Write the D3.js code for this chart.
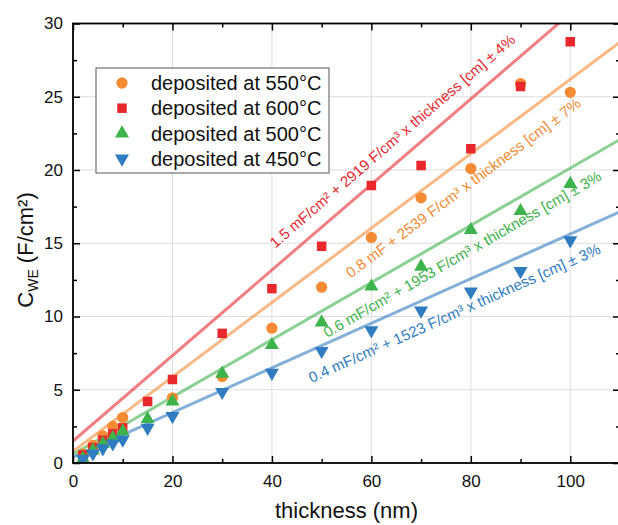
<!DOCTYPE html>
<html>
<head>
<meta charset="utf-8">
<script src="https://cdn.jsdelivr.net/npm/d3@7"></script>
<style>
  html, body { margin: 0; padding: 0; background: #fff; }
  svg { display: block; font-family: Arial, "Liberation Sans", sans-serif; }
</style>
</head>
<body>
<svg id="chart" width="618" height="525"></svg>
<script>
// Film thickness (nm) at which each electrode was measured
const thickness = [2, 4, 6, 8, 10, 15, 20, 30, 40, 50, 60, 70, 80, 90, 100];
// The 550 °C series has no 15 nm sample
const thickness550 = [2, 4, 6, 8, 10, 20, 30, 40, 50, 60, 70, 80, 90, 100];

// Areal capacitance C_WE (mF/cm²) for each deposition temperature
const cwe550 = [0.6, 1.2, 1.85, 2.5, 3.1, 4.45, 5.9, 9.2, 12.0, 15.4, 18.1, 20.1, 25.9, 25.3];
const cwe600 = [0.55, 1.05, 1.55, 2.0, 2.4, 4.2, 5.7, 8.85, 11.9, 14.8, 18.95, 20.3, 21.45, 25.7, 28.75];
const cwe500 = [0.3, 0.85, 1.3, 1.7, 2.15, 3.0, 4.2, 6.1, 8.05, 9.6, 12.05, 13.4, 15.9, 17.2, 19.05];
const cwe450 = [0.27, 0.65, 1.0, 1.33, 1.6, 2.4, 3.2, 4.85, 6.15, 7.65, 9.05, 10.4, 11.7, 13.1, 15.2];

// Linear fits: intercept (mF/cm²) and volumetric slope (F/cm³), in legend order
const seriesNames = ["deposited at 550°C", "deposited at 600°C", "deposited at 500°C", "deposited at 450°C"];
const fitIntercept = [0.8, 1.5, 0.6, 0.4];
const fitSlope = [2539, 2919, 1953, 1523];
const fitText = [
  "0.8 mF + 2539 F/cm³ x thickness [cm] ± 7%",
  "1.5 mF/cm² + 2919 F/cm³ x thickness [cm] ± 4%",
  "0.6 mF/cm² + 1953 F/cm³ x thickness [cm] ± 3%",
  "0.4 mF/cm² + 1523 F/cm³ x thickness [cm] ± 3%"
];

// Axis ticks
const xMajor = [0, 20, 40, 60, 80, 100];
const xMinor = [10, 30, 50, 70, 90, 110];
const yMajor = [0, 5, 10, 15, 20, 25, 30];
const yMinor = [2.5, 7.5, 12.5, 17.5, 22.5, 27.5];

// F/cm³ × nm  ->  mF/cm²
const NM_TO_CM = 1e-7, F_TO_MF = 1e3;
const fitLine = i => t => fitIntercept[i] + fitSlope[i] * t * NM_TO_CM * F_TO_MF;

// ---- styling & layout ----
const colors = ["#F58B33", "#E8282D", "#3DB34C", "#2F7CC1"];
const shapes = ["circle", "square", "triUp", "triDown"];
// where each equation starts along its line (nm) and its distance from the line (px, + above)
const labelLayout = [
  { start: 52.5, offset: -28 },
  { start: 42.5, offset: 14 },
  { start: 48.5, offset: -26 },
  { start: 45.5, offset: -30 }
];

const L = 73, R = 620, T = 23.5, B = 463;
const x = d3.scaleLinear().domain([0, 110]).range([L, R]);
const y = d3.scaleLinear().domain([0, 30]).range([B, T]);

const svg = d3.select("#chart");
svg.append("defs").append("clipPath").attr("id", "plotClip")
  .append("rect").attr("x", L).attr("y", T).attr("width", R - L).attr("height", B - T);

// gridlines
const grid = svg.append("g").attr("stroke", "#DEDEDE").attr("stroke-width", 1);
grid.selectAll(".gx").data(xMajor.filter(v => v > 0)).join("line")
  .attr("x1", d => x(d)).attr("x2", d => x(d)).attr("y1", T).attr("y2", B);
grid.selectAll(".gy").data(yMajor.filter(v => v > 0 && v < 30)).join("line")
  .attr("y1", d => y(d)).attr("y2", d => y(d)).attr("x1", L).attr("x2", R);

const plot = svg.append("g").attr("clip-path", "url(#plotClip)");

// fit lines
const lineGen = d3.line().x(d => x(d[0])).y(d => y(d[1]));
fitIntercept.forEach((_, i) => {
  const f = fitLine(i);
  plot.append("path")
    .datum([[0, f(0)], [110, f(110)]])
    .attr("d", lineGen)
    .attr("fill", "none")
    .attr("stroke", colors[i])
    .attr("stroke-opacity", 0.6)
    .attr("stroke-width", 3);
});

// fit equations written along each line
fitIntercept.forEach((_, i) => {
  const f = fitLine(i);
  const ang = Math.atan2(y(f(110)) - y(f(0)), x(110) - x(0));
  const lay = labelLayout[i];
  const px = x(lay.start) + lay.offset * Math.sin(ang);
  const py = y(f(lay.start)) - lay.offset * Math.cos(ang);
  svg.append("text")
    .attr("transform", `translate(${px},${py}) rotate(${ang * 180 / Math.PI})`)
    .attr("fill", colors[i])
    .attr("font-size", 15)
    .text(fitText[i]);
});

// symbols
function symbolPath(shape, size) {
  if (shape === "circle") return d3.symbol(d3.symbolCircle, size)();
  if (shape === "square") return d3.symbol(d3.symbolSquare, size)();
  return d3.symbol(d3.symbolTriangle, size)();
}
const symbolSize = { circle: 100, square: 90, triUp: 85, triDown: 85 };
function drawSymbol(g, shape, cx, cy, color) {
  g.append("path")
    .attr("d", symbolPath(shape, symbolSize[shape]))
    .attr("transform", `translate(${cx},${cy})` + (shape === "triDown" ? " rotate(180)" : ""))
    .attr("fill", color);
}

const seriesX = [thickness550, thickness, thickness, thickness];
const seriesY = [cwe550, cwe600, cwe500, cwe450];
const pts = plot.append("g");
seriesY.forEach((vals, i) => {
  vals.forEach((v, k) => drawSymbol(pts, shapes[i], x(seriesX[i][k]), y(v), colors[i]));
});

// axes with inward ticks
const axisG = svg.append("g").attr("font-family", "Arial, 'Liberation Sans', sans-serif");
function styleAxis(g) {
  g.select(".domain").remove();
  g.selectAll("line").attr("stroke", "#000").attr("stroke-width", 1.5);
  g.selectAll("text").attr("fill", "#111").attr("font-size", 17);
}
axisG.append("g").attr("transform", `translate(0,${B})`)
  .call(d3.axisBottom(x).tickValues(xMajor).tickSize(-7).tickPadding(12).tickFormat(d3.format("d")))
  .call(styleAxis);
axisG.append("g").attr("transform", `translate(0,${B})`)
  .call(d3.axisBottom(x).tickValues(xMinor).tickSize(-4).tickFormat(""))
  .call(styleAxis);
axisG.append("g").attr("transform", `translate(0,${T})`)
  .call(d3.axisTop(x).tickValues(xMajor).tickSize(-7).tickFormat(""))
  .call(styleAxis);
axisG.append("g").attr("transform", `translate(0,${T})`)
  .call(d3.axisTop(x).tickValues(xMinor).tickSize(-4).tickFormat(""))
  .call(styleAxis);
axisG.append("g").attr("transform", `translate(${L},0)`)
  .call(d3.axisLeft(y).tickValues(yMajor).tickSize(-7).tickPadding(10).tickFormat(d3.format("d")))
  .call(styleAxis);
axisG.append("g").attr("transform", `translate(${L},0)`)
  .call(d3.axisLeft(y).tickValues(yMinor).tickSize(-4).tickFormat(""))
  .call(styleAxis);
axisG.append("g").attr("transform", `translate(${R},0)`)
  .call(d3.axisRight(y).tickValues(yMajor).tickSize(-7).tickFormat(""))
  .call(styleAxis);
axisG.append("g").attr("transform", `translate(${R},0)`)
  .call(d3.axisRight(y).tickValues(yMinor).tickSize(-4).tickFormat(""))
  .call(styleAxis);

// frame
svg.append("rect").attr("x", L).attr("y", T).attr("width", R - L).attr("height", B - T)
  .attr("fill", "none").attr("stroke", "#000").attr("stroke-width", 1.8);

// axis titles
svg.append("text").attr("x", (L + R) / 2).attr("y", 518)
  .attr("text-anchor", "middle").attr("font-size", 22).attr("fill", "#111")
  .text("thickness (nm)");
const yt = svg.append("text")
  .attr("transform", "translate(33,250) rotate(-90)")
  .attr("text-anchor", "middle").attr("font-size", 22).attr("fill", "#111");
yt.append("tspan").text("C");
yt.append("tspan").attr("font-size", 14).attr("dy", 5).text("WE");
yt.append("tspan").attr("dy", -5).text(" (F/cm²)");

// legend
const lg = svg.append("g");
lg.append("rect").attr("x", 96).attr("y", 68).attr("width", 233).attr("height", 105)
  .attr("fill", "#fff").attr("stroke", "#555").attr("stroke-width", 1);
seriesNames.forEach((name, i) => {
  const cy = 83 + i * 25.2;
  drawSymbol(lg, shapes[i], 122, cy, colors[i]);
  lg.append("text").attr("x", 151).attr("y", cy).attr("dy", "0.36em")
    .attr("font-size", 20).attr("fill", "#111").text(name);
});
</script>
</body>
</html>
